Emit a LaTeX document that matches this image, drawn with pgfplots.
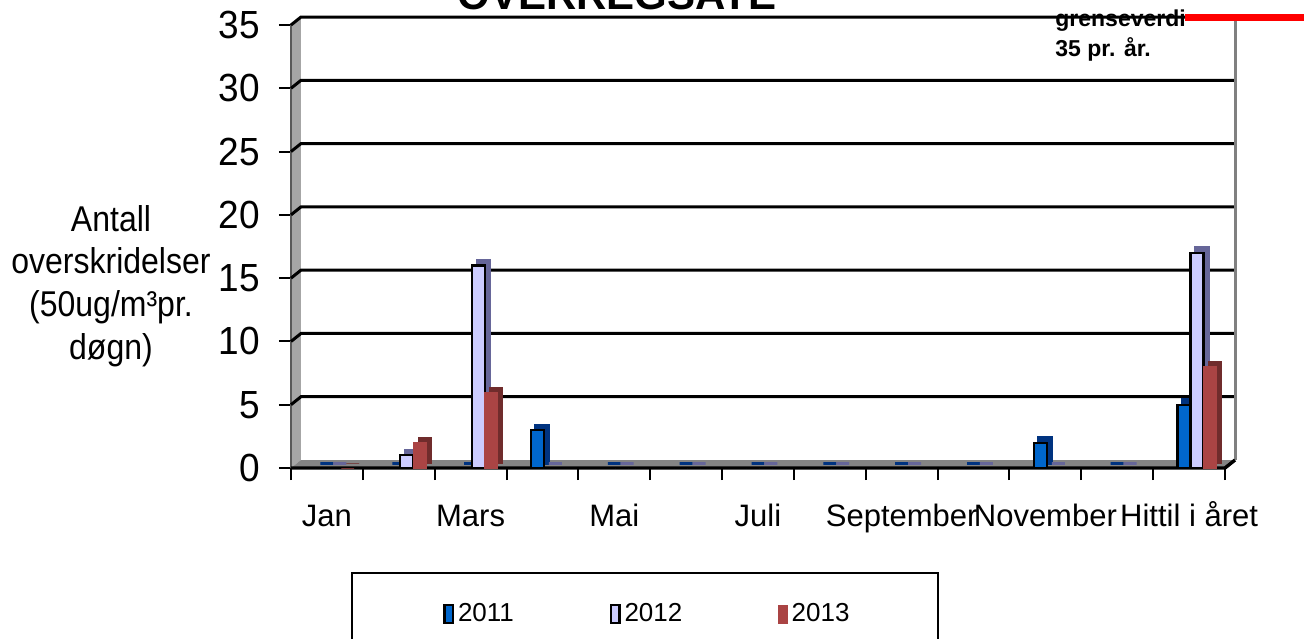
\documentclass[border=0pt]{standalone}
\usepackage{pgfplots}
\pgfplotsset{compat=1.18}
\usepackage{fontspec}
\setmainfont{Liberation Sans}
\definecolor{cA}{RGB}{0,102,204}
\definecolor{cAs}{RGB}{0,51,128}
\definecolor{cB}{RGB}{204,204,255}
\definecolor{cBs}{RGB}{102,102,153}
\definecolor{cC}{RGB}{170,68,68}
\definecolor{cCs}{RGB}{112,44,44}
\definecolor{wall}{RGB}{166,166,166}
\definecolor{floorc}{RGB}{132,132,132}
\begin{document}
\begin{tikzpicture}
\begin{axis}[
  at={(0,0)}, anchor=south west,
  scale only axis, width=467pt, height=221.5pt,
  xmin=-0.5, xmax=12.5, ymin=0, ymax=35,
  clip=false,
  axis x line*=bottom, axis y line*=left,
  axis line style={draw=none},
  ytick={0,5,...,35},
  xtick={-0.5,0.5,...,12.5},
  xticklabels={},
  extra x ticks={0,2,...,12},
  extra x tick labels={Jan,Mars,Mai,Juli,September,November,Hittil i året},
  extra x tick style={major tick length=0pt},
  tick align=outside,
  major tick length=6pt,
  tick style={black, line width=1pt},
  /pgf/number format/assume math mode=true,
  yticklabel style={font=\fontsize{18.5}{18.5}\selectfont, anchor=east, xshift=-6pt, yscale=1.06},
  xticklabel style={font=\fontsize{15.5}{15.5}\selectfont, anchor=base, yshift=-29pt},
  ybar, bar width=0.18,
  legend style={at={(0,0)}, anchor=west, xshift=76pt, yshift=-73pt,
    draw=none, fill=none, inner sep=0pt,
    font=\fontsize{13}{13}\selectfont,
    /tikz/every even column/.append style={column sep=46pt}},
  legend columns=3,
  legend image code/.code={\draw[#1] (0pt,-4.5pt) rectangle (4.2pt,4.5pt);},
]
% walls
\fill[wall] (axis cs:-0.5,0) -- (axis cs:-0.5,35) -- ([shift={(5pt,4pt)}]axis cs:-0.5,35) -- ([shift={(5pt,4pt)}]axis cs:-0.5,0) -- cycle;
\fill[floorc] (axis cs:-0.5,0) -- (axis cs:12.5,0) -- ([shift={(5pt,4pt)}]axis cs:12.5,0) -- ([shift={(5pt,4pt)}]axis cs:-0.5,0) -- cycle;
\draw[gray!70!black, line width=0.6pt] (axis cs:-0.5,0) -- (axis cs:-0.5,35);
\pgfplotsinvokeforeach{5,10,...,35}{
  \draw[black, line width=1.5pt] (axis cs:-0.5,#1) -- ([shift={(5pt,4pt)}]axis cs:-0.5,#1) -- ([shift={(5pt,4pt)}]axis cs:12.5,#1);
}
\draw[gray, line width=1.5pt] ([shift={(5pt,4pt)}]axis cs:12.5,0) -- ([shift={(5pt,4pt)}]axis cs:12.5,35);
\draw[black, line width=1.7pt] (axis cs:-0.5,0) -- (axis cs:12.5,0) -- ([shift={(5pt,4pt)}]axis cs:12.5,0);
\draw[red, line width=3.5pt] ([yshift=4pt]axis cs:11.95,35) -- ([yshift=4pt]axis cs:13.6,35);
% 2011
\addplot[forget plot, bar shift=-0.07, fill=cAs, draw=cAs, line width=1.5pt, xshift=2.5pt, yshift=2.5pt] coordinates {(0,0) (1,0) (2,0) (3,3) (4,0) (5,0) (6,0) (7,0) (8,0) (9,0) (10,2) (11,0) (12,5)};
\addplot[bar shift=-0.07, fill=cA, draw=black, line width=1.1pt] coordinates {(0,0) (1,0) (2,0) (3,3) (4,0) (5,0) (6,0) (7,0) (8,0) (9,0) (10,2) (11,0) (12,5)};
\addlegendentry{2011}
% 2012
\addplot[forget plot, bar shift=0.11, fill=cBs, draw=cBs, line width=1.5pt, xshift=2.5pt, yshift=2.5pt] coordinates {(0,0) (1,1) (2,16) (3,0) (4,0) (5,0) (6,0) (7,0) (8,0) (9,0) (10,0) (11,0) (12,17)};
\addplot[bar shift=0.11, fill=cB, draw=black, line width=1.1pt] coordinates {(0,0) (1,1) (2,16) (3,0) (4,0) (5,0) (6,0) (7,0) (8,0) (9,0) (10,0) (11,0) (12,17)};
\addlegendentry{2012}
% 2013
\addplot[forget plot, bar shift=0.29, fill=cCs, draw=cCs, line width=0.5pt, xshift=2.5pt, yshift=2.5pt] coordinates {(0,0) (1,2) (2,6) (12,8)};
\addplot[bar shift=0.29, fill=cC, draw=cC, line width=0.5pt] coordinates {(0,0) (1,2) (2,6) (12,8)};
\addlegendentry{2013}
\end{axis}
% labels and decorations
\node[align=center, font=\fontsize{16}{19}\selectfont, yscale=1.12] at (-90pt,91pt) {Antall\\overskridelser\\(50ug/m³pr.\\døgn)};
\node[font=\bfseries\fontsize{21}{21}\selectfont, anchor=base] at (163pt,229pt) {OVERREGSATE};
\node[font=\bfseries\fontsize{11.5}{15}\selectfont, anchor=base west, align=left, inner sep=0pt] at (382pt,220.5pt) {grenseverdi};
\node[font=\bfseries\fontsize{11.5}{15}\selectfont, anchor=base west, align=left, inner sep=0pt] at (382pt,205.5pt) {35 pr. år.};
\draw[black, line width=1pt] (30.5pt,-52.5pt) rectangle (323.5pt,-95pt);
\pgfresetboundingbox
\useasboundingbox (-145.5pt,-85pt) rectangle (508pt,234pt);
\end{tikzpicture}
\end{document}
